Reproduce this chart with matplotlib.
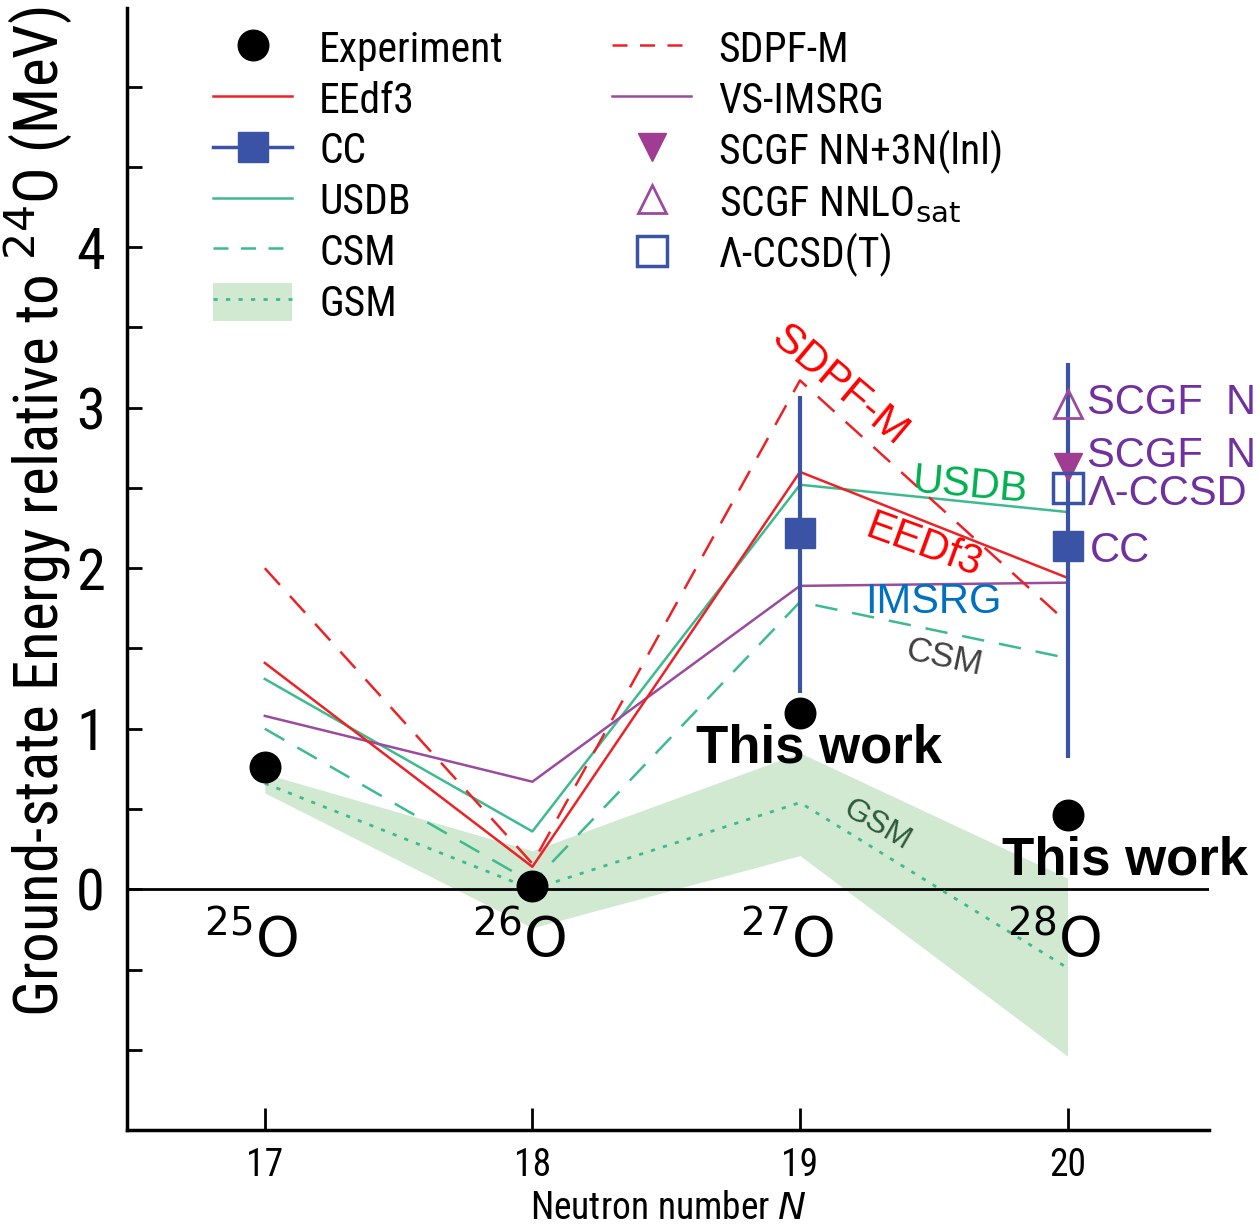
import numpy as np
import matplotlib
matplotlib.use('Agg')
import matplotlib.pyplot as plt
from matplotlib.lines import Line2D
from matplotlib.patches import Patch
from matplotlib import font_manager

# data
N = [17, 18, 19, 20]
exp_E = [0.76, 0.02, 1.10, 0.46]
eedf3 = [1.41, 0.14, 2.60, 1.94]
sdpfm = [2.00, 0.16, 3.17, 1.66]
usdb = [1.31, 0.36, 2.52, 2.35]
csm = [1.00, 0.04, 1.79, 1.44]
imsrg = [1.08, 0.67, 1.89, 1.91]
gsm = [0.66, 0.00, 0.54, -0.49]
gsm_lo = [0.60, -0.24, 0.21, -1.04]
gsm_hi = [0.72, 0.24, 0.85, 0.07]

cc_N = [19, 20]
cc_E = [2.22, 2.14]
cc_lo = [1.22, 0.82]
cc_hi = [3.07, 3.28]

scgf_N = [20]
scgf_3n = [2.63]
scgf_sat = [3.02]
lccsdt = [2.50]

isotopes = ['25', '26', '27', '28']

# pick a condensed face if there is one
have = {f.name for f in font_manager.fontManager.ttflist}
narrow_face = 'Liberation Sans'
for cand in ['Liberation Sans Narrow', 'Arial Narrow', 'Roboto Condensed', 'Archivo Narrow', 'PT Sans Narrow']:
    if cand in have:
        narrow_face = cand
        break
narrow = [narrow_face, 'DejaVu Sans']
arial = ['Liberation Sans', 'DejaVu Sans']

red = '#ec2227'
teal = '#3dbb8f'
purple = '#9b4aa0'
blue = '#3a53a4'
band = '#d1e8d1'
txtpurple = '#7030a0'

fig = plt.figure(figsize=(12.6, 12.27), dpi=100)
ax = fig.add_axes([0.1008, 0.079, 0.859, 0.9145])

ax.fill_between(N, gsm_lo, gsm_hi, color=band, lw=0, zorder=1)
ax.axhline(0, color='k', lw=2, zorder=2)

ax.plot(N, gsm, color=teal, lw=2, dashes=(1.5, 3), zorder=3)
ax.plot(N, csm, color=teal, lw=1.8, dashes=(9, 6), zorder=3)
ax.plot(N, usdb, color=teal, lw=1.8, zorder=3)
ax.plot(N, imsrg, color=purple, lw=1.8, zorder=3)
ax.plot(N, sdpfm, color=red, lw=1.8, dashes=(9, 6), zorder=3)
ax.plot(N, eedf3, color=red, lw=1.8, zorder=3)

yerr = [np.array(cc_E) - np.array(cc_lo), np.array(cc_hi) - np.array(cc_E)]
ax.errorbar(cc_N, cc_E, yerr=yerr, fmt='s', color=blue, ms=21, elinewidth=3, capsize=0, zorder=4)
ax.plot(scgf_N, scgf_sat, '^', ms=20, mfc='none', mec=purple, mew=2, zorder=5)
ax.plot(scgf_N, scgf_3n, 'v', ms=20, color='#a03c92', zorder=5)
ax.plot(scgf_N, lccsdt, 's', ms=21, mfc='none', mec=blue, mew=2.5, zorder=5)
ax.plot(N, exp_E, 'o', color='k', ms=22, zorder=6)

# labels inside the plot
ax.text(19.146, 3.14, 'SDPF-M', color='red', fontsize=31, family=arial, rotation=-40, ha='center', va='center')
ax.text(19.638, 2.51, 'USDB', color='#00b050', fontsize=30, family=arial, rotation=-5, ha='center', va='center')
ax.text(19.463, 2.14, 'EEDf3', color='red', fontsize=30, family=arial, rotation=-20, ha='center', va='center')
ax.text(19.5, 1.79, 'IMSRG', color='#0070c0', fontsize=30, family=arial, ha='center', va='center')
ax.text(19.537, 1.445, 'CSM', color='#404040', fontsize=25, family=arial, rotation=-12, ha='center', va='center')
ax.text(19.287, 0.40, 'GSM', color='#2d5a3a', fontsize=23, family=arial, rotation=-30, ha='center', va='center')
ax.text(19.071, 0.88, 'This work', fontsize=38, weight='bold', family=arial, ha='center', va='center')
ax.text(20.213, 0.18, 'This work', fontsize=38, weight='bold', family=arial, ha='center', va='center')
ax.text(20.071, 3.03, 'SCGF  N', color=txtpurple, fontsize=30, family=arial, ha='left', va='center')
ax.text(20.071, 2.70, 'SCGF  N', color=txtpurple, fontsize=30, family=arial, ha='left', va='center')
ax.text(20.075, 2.46, 'Λ-CCSD', color=txtpurple, fontsize=30, family=arial, ha='left', va='center')
ax.text(20.085, 2.11, 'CC', color=txtpurple, fontsize=30, family=arial, ha='left', va='center')
for n, a in zip(N, isotopes):
    ax.text(n - 0.05, -0.32, r'$^{%s}$O' % a, fontsize=40, ha='center', va='center')

ax.set_xlim(16.485, 20.53)
ax.set_ylim(-1.5, 5.49)
ax.set_xticks(N)
ax.set_xticklabels([str(n) for n in N], family=narrow, fontsize=27)
yt = np.arange(-1.0, 5.01, 0.5)
ax.set_yticks(yt)
ax.set_yticklabels([str(int(v)) if (v >= 0 and v <= 4 and v == int(v)) else '' for v in yt],
                   family=narrow, fontsize=42)
ax.tick_params(axis='x', direction='in', length=16, width=2, pad=12)
ax.tick_params(axis='y', direction='in', length=11, width=2, pad=16)
for s in ['top', 'right']:
    ax.spines[s].set_visible(False)
for s in ['left', 'bottom']:
    ax.spines[s].set_linewidth(2.5)

ax.set_xlabel('Neutron number $N$', family=narrow, fontsize=27, va='center')
ax.xaxis.set_label_coords(0.5, -0.07)
ax.set_ylabel('Ground-state Energy relative to $^{24}$O (MeV)', family=narrow, fontsize=44, va='center')
ax.yaxis.set_label_coords(-0.082, 0.551)

handles = [
    Line2D([], [], ls='none', marker='o', color='k', ms=22),
    Line2D([], [], color=red, lw=1.8),
    Line2D([], [], color=blue, lw=2.5, marker='s', ms=21),
    Line2D([], [], color=teal, lw=1.8),
    Line2D([], [], color=teal, lw=1.8, dashes=(6, 5)),
    (Patch(facecolor=band, lw=0), Line2D([], [], color=teal, lw=2, dashes=(1.5, 3))),
    Line2D([], [], color=red, lw=1.8, dashes=(6, 5)),
    Line2D([], [], color=purple, lw=1.8),
    Line2D([], [], ls='none', marker='v', color='#a03c92', ms=20),
    Line2D([], [], ls='none', marker='^', mfc='none', mec=purple, mew=2, ms=20),
    Line2D([], [], ls='none', marker='s', mfc='none', mec=blue, mew=2.5, ms=21),
]
labels = ['Experiment', 'EEdf3', 'CC', 'USDB', 'CSM', 'GSM',
          'SDPF-M', 'VS-IMSRG', 'SCGF NN+3N(lnl)', r'SCGF NNLO$_\mathrm{sat}$', 'Λ-CCSD(T)']
ax.legend(handles, labels, ncol=2, loc='upper left', bbox_to_anchor=(0.0794, 0.982),
          frameon=False, borderpad=0, borderaxespad=0, handlelength=1.9, handleheight=1.05,
          handletextpad=0.65, columnspacing=2.6, labelspacing=0.2,
          prop={'family': narrow, 'size': 30})

plt.savefig('out.png', dpi=100)
